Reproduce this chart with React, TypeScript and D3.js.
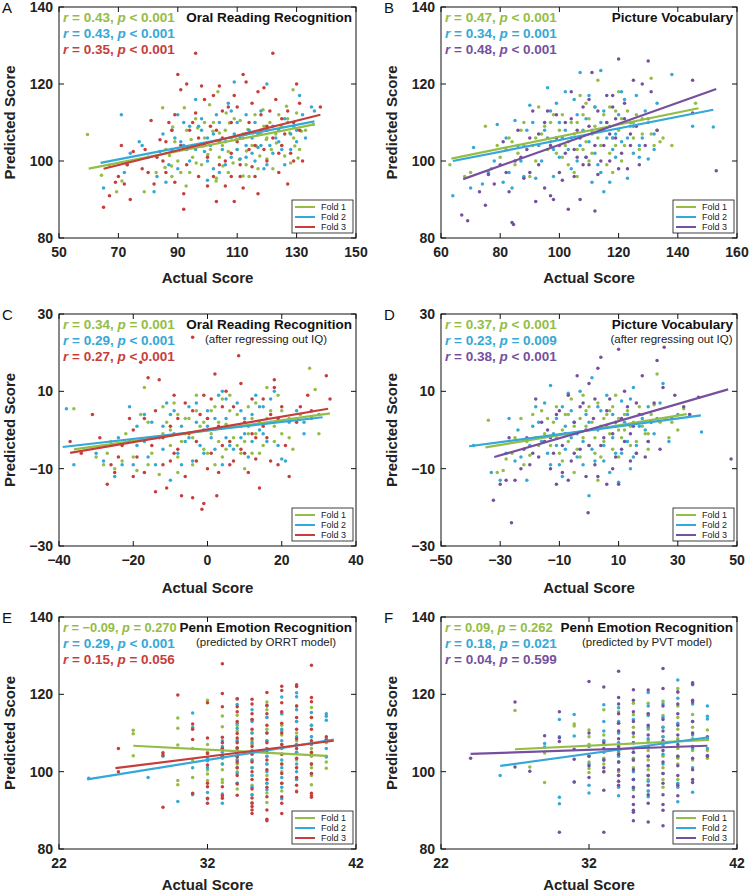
import React from 'react';
import * as d3 from 'd3';

type Pt = [number, number];
type Col = [number, number[]];
type Seg = [number, number, number, number];

const GREEN = '#94bd45';
const BLUE = '#34a8d6';
const RED = '#c63e3c';
const PURPLE = '#76509f';
const FONT = '"Liberation Sans", Arial, Helvetica, sans-serif';

const foldLabels = ['Fold 1', 'Fold 2', 'Fold 3'];

// ---------- Panel A : Oral Reading Recognition ----------
const aXTicks = [50, 70, 90, 110, 130, 150];
const aYTicks = [80, 100, 120, 140];
const aFold1: Pt[] = [[59.6,106.9],[64.3,96.3],[66.9,98.9],[69.4,92],[71.2,94.8],[72.9,99],[78.7,92],[82.7,97],[84.9,113.8],[85.7,98.3],[87.2,101.4],[88.3,108.8],[87.9,98.7],[92.2,113.8],[92.8,93.5],[94.5,105.6],[96.2,99.5],[96.7,108.6],[98.4,103.9],[100.1,101.7],[100.7,114.6],[101.8,107.7],[102.9,94.8],[103.5,118],[104,107.3],[105.2,98.7],[106.3,112.5],[107.4,109.9],[108.6,99.5],[109.7,105.6],[110.8,100.4],[112,96.1],[113.1,102.6],[113.6,108.2],[115.3,107.3],[116.4,103.9],[117.6,101.3],[118.7,113.3],[119.8,105.6],[121.5,103],[123.2,104.7],[124.9,109],[126,101.3],[126.6,114.2],[127.7,107.3],[128.8,118.5],[129.4,103.9],[130,112.5],[130.5,100.8],[135.6,109.5],[131.6,107.7],[91,97],[97,104],[99,110],[103,95.5],[111,110.5],[114,96],[120,100.5],[124,112],[128,99.5],[88,96],[95,101],[107,102.5],[118,107],[86,103],[89,105],[90,100],[93,108],[94,97],[96,111],[98,99],[99,106],[101,103],[102,110],[104,101],[105,104],[106,108],[107,97],[108,106],[109,111],[110,103],[112,107],[113,99],[115,104],[116,112],[117,98],[119,109],[120,106],[121,110],[122,98],[123,107],[125,104],[127,111],[129,106],[131,103],[133,108]];
const aFold2: Pt[] = [[65,93],[71,112],[72,97],[74,102],[77,105],[78,104],[82,92],[84,102.5],[86,94.5],[88,108],[89,106],[90,112],[92,110],[93,103],[95,104],[96,116],[97,109],[98,108],[100,106],[101,104],[102,98],[103,112],[104,105],[105,103],[106,99],[107,115],[108,113],[109,120.5],[110,103],[111,100.5],[112,106],[113,104],[114,108],[115,102],[116,110],[117,107],[118,113],[119,98],[120,120],[121,104],[122,109],[123,106],[125,103],[126,99],[127,110],[128,107],[130,105],[131,117],[132,112],[135,114],[120,99],[100,95],[94,100],[99,102.5],[87,99],[91,105],[104,110],[109,107],[113,101],[117,103.5],[124,108],[129,109],[80,101],[83,96],[85,107],[88,103],[90,98],[92,104],[94,109],[96,103],[98,111],[100,100],[102,107],[104,97],[106,105],[108,101],[110,110],[111,106],[113,112],[115,106],[116,100],[118,104],[120,108],[122,102],[124,105],[126,111],[128,103],[130,108],[133,106],[136,113]];
const aFold3: Pt[] = [[65,88],[67,91],[69,94.5],[70,96],[71,104],[72,94],[74,90],[75,102.5],[78,98],[80,97],[81,110.5],[82,94],[84,105.5],[85,100],[87,110],[88,108],[89,94.5],[90,122.5],[91,118.5],[92,87.5],[92,91.5],[93,120],[94,108],[96,128],[96,112.5],[97,96],[98,119.5],[99,104],[100,93.5],[101,109],[102,117],[103,89.5],[104,119.5],[105,106],[106,93.5],[107,114],[108,102],[109,89.5],[110,114],[111,96],[112,122.5],[112,93],[113,120.5],[114,110],[115,98.5],[116,104],[117,118],[117,91.5],[118,108],[119,119],[120,100],[121,113],[122,128],[123,116],[124,102],[125,111],[126,107],[127,94],[128,102],[129,110],[130,120],[131,108],[132,100],[138,114],[113,107],[104,99],[108,110],[86,105],[73,99],[79,103],[83,101],[86,97],[89,112],[91,104],[93,99],[95,110],[97,106],[99,116],[100,101],[102,96],[103,108],[105,113],[106,100],[108,96],[109,117],[110,105],[111,99],[114,103],[115,115],[116,96],[118,112],[119,103],[120,109],[122,106],[124,97],[125,104],[127,113],[129,100],[131,115]];
const aLines: Seg[] = [[60,98,136,109.5],[64,99.5,136,110.3],[65,98,138,112]];
const aStats = [['0.43','<','0.001'],['0.43','<','0.001'],['0.35','<','0.001']];

// ---------- Panel B : Picture Vocabulary ----------
const bXTicks = [60, 80, 100, 120, 140, 160];
const bYTicks = [80, 100, 120, 140];
const bFold1: Pt[] = [[63,99],[68,96],[70,97],[75,109],[77,98],[79,104],[80,101],[82,103],[83,106],[84,105],[86,102],[87,108],[88,110],[90,96],[91,104],[92,106],[93,114],[95,109],[96,103],[97,105],[98,112],[99,106],[100,108],[101,101],[102,104],[103,99],[104,110],[105,107],[106,103],[107,117],[108,112],[109,105],[110,100],[111,107],[112,114],[113,121],[114,104],[115,108],[116,110],[117,102],[118,106],[119,113],[120,118],[121,111],[122,104],[124,109],[125,106],[126,112],[127,103],[128,107],[130,110],[131,121.5],[132,104],[133,108],[135,106],[138,104],[146,115],[118,97],[106,96],[110,111],[85,99],[88,104],[92,100],[94,107],[97,110],[99,102],[101,112],[103,105],[105,97],[106,110],[108,103],[109,115],[111,102],[112,109],[113,106],[115,112],[116,99],[117,114],[119,104],[120,108],[121,100],[123,113],[125,110],[128,111],[131,107],[134,105]];
const bFold2: Pt[] = [[64,91],[70,93],[71,103.5],[74,94],[76,97],[79,109.5],[81,94.5],[83,97],[84,93],[85,110.5],[87,100],[89,108],[90,114.5],[92,95.5],[93,104],[95,108],[96,119],[97,113],[98,103],[99,115],[100,110],[101,106],[102,118],[103,103],[104,98],[105,116],[106,112],[107,123],[108,108],[109,101],[110,105],[111,94.5],[112,114],[113,99],[114,123.5],[115,92],[116,106],[117,94.5],[118,103],[119,107],[120,112],[121,105],[122,116],[123,95.5],[124,110],[125,102],[126,117],[127,101],[128,106],[129,113],[130,100.5],[132,107],[133,115],[138,122.5],[145,109],[152,108.8],[118,106],[114,110],[110,117],[78,100],[82,106],[86,104],[88,96],[91,110],[94,100],[96,106],[98,96],[100,101],[102,108],[104,106],[106,100],[107,104],[109,111],[111,108],[112,102],[114,97],[115,113],[117,109],[119,101],[121,118],[123,106],[125,109],[127,104],[130,111],[132,103]];
const bFold3: Pt[] = [[67,86],[69,84.5],[73,92],[75,88.5],[76,96.5],[80,99],[81,105],[83,92],[84,84],[84.5,83.5],[85,100],[86,108],[88,95.5],[89,103],[90,97],[91,113],[92,89.5],[93,107],[95,93],[96,113],[97,91],[98,90],[99,106],[100,104],[101,95],[102,110],[103,87.5],[104,111],[105,103],[106,108],[107,90],[108,114],[109,101],[110,116],[111,123],[112,87],[113,96.5],[114,108],[115,104],[116,110],[117,100],[118,114],[119,106],[120,126.5],[121,102],[122,111],[123,98],[124,107],[125,121],[127,99],[128,120],[130,126],[131,118],[133,108],[145,121],[145,112.5],[153,97.5],[110,99],[118,117],[106,101],[78,94],[82,97],[87,101],[90,106],[93,99],[95,110],[97,104],[99,112],[100,97],[102,102],[104,118],[105,96],[107,106],[108,99],[110,109],[112,104],[113,113],[114,100],[116,117],[117,107],[119,111],[120,98],[122,115],[124,104],[126,109],[129,104]];
const bLines: Seg[] = [[63.5,100.6,147,113.7],[64,100,152,113.3],[67.5,95.3,153,118.7]];
const bStats = [['0.47','<','0.001'],['0.34','=','0.001'],['0.48','<','0.001']];

// ---------- Panel C : ORR after regressing out IQ ----------
const cXTicks = [-40, -20, 0, 20, 40];
const cYTicks = [-30, -10, 10, 30];
const cFold1: Pt[] = [[-36,5.5],[-30,-7],[-28,-9],[-27,-6],[-25,-10],[-23,-8],[-20,-7],[-19,-10.5],[-17,11],[-15,-6],[-14,-2],[-13,-11.5],[-12,-1],[-11,2],[-10,-4],[-9,7],[-8,4],[-7,-3],[-6,-1],[-5,3],[-4,-9],[-3,5],[-2,1],[-1,-5],[0,3],[1,-1],[2,6],[3,-3],[4,-7],[5,1.5],[6,5],[7,-2],[8,4],[9,-6],[10,-3],[11,6],[12,3],[13,-1],[14,2],[15,-4],[16,11],[17,5],[18,1],[19,9],[20,-1],[22,3],[23,-5],[27.5,16],[29,10.5],[30,-1],[-8,-11],[10,-10],[4,8],[-21,-3],[-16,2],[2,-9],[12,-6],[-22,-1],[-18,4],[-16,-9],[-12,6],[-10,0],[-8,-7],[-6,3],[-4,-2],[-3,9],[-1,2],[0,-6],[1,5],[3,2],[5,-5],[6,9],[8,-4],[9,1],[11,-1],[13,7],[14,-6],[16,3],[18,-3],[20,5],[22,-2],[25,4],[-26,-3]];
const cFold2: Pt[] = [[-38,5.5],[-36,-9],[-28,-8],[-25,-12],[-23,-9],[-21,6],[-19,-4],[-17,-3],[-15,2],[-13,-2],[-12,-5],[-11,7],[-10,4],[-9,-1],[-8,-6],[-7,1],[-6,-3],[-5,6],[-4,-8],[-3,2],[-2,-4],[-1,0],[0,5],[1,-2],[2,-5],[3,9],[4,10],[5,3],[6,-4],[7,1],[8,7],[9,-2],[10,3],[11,-7],[12,4],[13,9],[14,0],[15,6],[16,-3],[17,2],[18,10],[19,3],[20,-7.5],[21,-8],[24,5],[26,2],[28,3],[30,4],[-10,-13],[-16,-7],[5,-2],[11,1],[-30,-6],[-24,-2],[-20,-9],[-17,4],[-14,-9],[-12,1],[-9,5],[-7,-9],[-5,-2],[-3,7],[-1,-6],[0,1],[2,3],[4,-9],[5,8],[7,-5],[9,5],[10,-1],[12,-3],[14,6],[15,-1],[17,8],[19,-4],[22,2],[26,-1],[-19,1]];
const cFold3: Pt[] = [[-37,-3],[-34,-6],[-31,4],[-27,-14],[-26,-9],[-25,-11],[-24,-7],[-21,3],[-20,-12],[-19,-7],[-18,17.5],[-17,3],[-16,13.5],[-15,-4],[-14,-16],[-13,13],[-12,-9],[-11,-15],[-10,1],[-9,9],[-8,-5],[-7,-17],[-6,7],[-5,-1],[-4,-17.5],[-3,-8],[-2,4],[-1,-19],[-1.5,-20.5],[0,-10],[1,8],[2,14.5],[2.5,-17],[3,1],[4,-4],[5,10],[6,-3],[7,6],[8.4,19.2],[9,-5],[10,2],[11,-11],[12,-1],[13,-7.5],[14,-15],[15,8],[16,-2],[17,4],[18,11],[19,-9],[20,6],[22,-12],[25,6],[28,5],[32,14],[33,8],[-4,24],[18,13],[-9,-6],[7,-8],[-29,-2],[-23,-4],[-20,0],[-17,-11],[-14,5],[-12,-2],[-10,-8],[-8,3],[-6,-12],[-4,5],[-3,-3],[-1,9],[0,3],[1,-6],[3,-11],[4,6],[6,-9],[7,1],[9,12],[10,-6],[12,8],[13,-2],[15,1],[17,-8],[19,3],[21,-4],[24,2],[27,9]];
const cLines: Seg[] = [[-36,-5,33,4.3],[-39,-4.4,31,3.3],[-37,-5.9,32.5,5.5]];
const cStats = [['0.34','=','0.001'],['0.29','<','0.001'],['0.27','<','0.001']];

// ---------- Panel D : PVT after regressing out IQ ----------
const dXTicks = [-50, -30, -10, 10, 30, 50];
const dYTicks = [-30, -10, 10, 30];
const dFold1: Pt[] = [[-34,2.5],[-31,-11],[-29,-10.5],[-28,-7.5],[-26,-6],[-23,3],[-21,-3],[-20,-6.5],[-18,-2],[-16,5],[-15,-1],[-13,-4],[-12,2],[-11,6],[-10,-6],[-9,0],[-8,4],[-7,-3],[-6,8],[-5,1],[-4,-5],[-3,3],[-2,-2],[-1,5],[0,-4],[1,2],[2,-6],[3,7],[4,1],[5,-3],[6,4],[7,-1],[8,6],[9,9],[10,3],[11,-2],[12,0],[13,5],[14,-4],[15,2],[16,-3],[17,6],[18,1],[19,-1],[20,-5],[21,4],[22,6.5],[23,14.5],[26,3],[28,2],[30,0],[32,5.5],[-5,-11],[3,-13],[10,-7],[-25,-2],[-22,-9],[-19,4],[-17,-4],[-14,3],[-11,-2],[-9,-8],[-7,4],[-5,-1],[-3,-7],[-1,1],[0,6],[2,-2],[4,-7],[5,3],[7,5],[8,-5],[10,0],[12,4],[14,1],[16,-6],[18,4],[20,-1],[24,2],[27,-2],[-2,9]];
const dFold2: Pt[] = [[-39,-4],[-33,-11],[-30,-13],[-27,3],[-25,-8],[-23,-7],[-21,-13],[-19,1],[-18,6],[-16,-3],[-15,7],[-14,-6],[-13,11.5],[-12,-1],[-11,3],[-10,-9],[-9,6],[-8,-5],[-7,9.5],[-6,-2],[-5,2],[-4,-7],[-3,10],[-2,-3],[-1,4],[0,-17],[1,13.5],[2,-8],[3,0],[4,5],[5,-4],[6,1],[7,-11],[8,4],[9,-6],[10,-13.5],[11,7.5],[12,2],[13,-3],[14,-10],[15,11],[16,-4],[18,3],[19,0],[20,6],[22,-1],[25,12],[30,4],[34,4],[38,-0.5],[24,7],[-28,-6],[-24,0],[-20,-4],[-17,2],[-13,-9],[-11,-4],[-8,1],[-6,5],[-4,-1],[-2,-9],[0,2],[1,-5],[3,6],[5,-8],[6,9],[8,-2],[9,1],[11,-6],[13,4],[15,-7],[17,1],[20,-3],[23,3],[27,-3],[-9,-12],[14,8]];
const dFold3: Pt[] = [[-32.3,-18.2],[-30,-14],[-28,-13],[-27,-2],[-25,-13],[-26.2,-24],[-22,-5],[-20,-9],[-18,8],[-17,-7],[-15,-3],[-14,0],[-12,-6],[-11,-14],[-10,5],[-9,-11],[-8,-1],[-7,9],[-6,-8],[-5,2],[-4,14],[-3,-5],[-2,7],[-1,-12],[0,12],[-0.3,-21.4],[1.5,3],[2,-9],[3,16],[4,-4],[4,18.8],[6,-14],[7,8],[8,-1],[9,-7],[10,20.9],[11,3],[12,-3],[13,6],[14,-8],[15,1],[16,-6],[17,4],[18,14],[20,-3],[22,7],[23,18],[25,11],[25.4,21.4],[28,3],[29,9],[34,4],[37,8.5],[48,-7.5],[10,-14],[-13,-2],[-23,-10],[-21,-2],[-19,-6],[-16,2],[-13,-10],[-11,4],[-9,-4],[-7,-13],[-5,-6],[-3,6],[-1,0],[0,-4],[2,8],[3,-12],[5,-2],[6,5],[8,-10],[9,2],[11,-5],[12,10],[14,-1],[16,7],[19,-7],[21,2],[24,-5],[32,6]];
const dLines: Seg[] = [[-35,-4.5,33,4.1],[-40.5,-4.2,37.8,3.8],[-32,-7,47,10.5]];
const dStats = [['0.37','<','0.001'],['0.23','=','0.009'],['0.38','<','0.001']];

// ---------- Panel E : Penn Emotion Recognition (ORRT model) ----------
const eXTicks = [22, 32, 42];
const eYTicks = [80, 100, 120, 140];
const eFold1: Col[] = [[27,[110.7,109.8,104.1]],[30,[113.9,111.2,106.9,97.7,96.6]],[31,[98.5,106,103]],[32,[118.5,107,100.4,99.4,97.7,103,105]],[33,[114.4,111.6,106,104,98,97.2,102,100.5]],[34,[114.6,110.5,108,106,104,102,100,97,95.5,112,103]],[35,[113.5,110,107,105,103,101,99,96.5,94,92,108]],[36,[118,114,111,108,106,104,102,99,97,94.5,92,116]],[37,[115,112,109.5,107,104.5,102,100,97,95,110.5]],[38,[117,113,110,108,105,103,101,98,95,107]],[39,[116.6,112,109,106,104,101,99,96.6,114]],[40,[107.5,104,100.9,102.5]]];
const eFold2: Col[] = [[24,[98.3]],[28,[98.5]],[29,[104]],[30,[92.3]],[31,[115.2,111.4,101,94]],[32,[103.4,102.8,94.6,92.9,101]],[33,[108,105,103.5,102,94.2,91.8,106.5]],[34,[118.9,117.4,112.5,111.2,108,106,104,101,99.5,97,103]],[35,[116,113,110,107.5,105.5,103,101,99,96,94]],[36,[117,114,110,108,106,104,102,100,97,95.3]],[37,[119.3,115,111,108,106,103,101,98.5,96,93]],[38,[120.4,119.4,116,113,109,107,105,102,100,98]],[39,[115.3,112,109,107,104.5,102,99.5]],[40,[115,114.3,113.3,108.4,106,103.8]]];
const eFold3: Col[] = [[26,[106,100]],[29,[104.9,104.3,90.8]],[30,[119.8]],[31,[112.3,111,108.3,94.4]],[32,[117.8,108.7,104.7,101.7,97,96.1,93.1,91.8]],[33,[127.9,120.2,116.8,108.9,107.5,106,104,96.1,93.8,93.1]],[34,[118.8,116.8,115.5,113,109.9,108.7,107.5,106.2,105,103.8,102.5,101,99,96.8,93.9]],[35,[118.7,117.5,115,113.5,111,108.5,106.5,104.5,102.5,100,98,95.5,93.2,91.8,91,90.1,89.2]],[36,[120.5,117.2,115,112,110,107.5,105,103,100.5,98,96,93.5,90.1,87.7,87.3]],[37,[122.1,121,117.8,115.5,112.5,110,107,104.5,102,99.5,97,93.5,91.8,89.2]],[38,[122.5,122,117,114,111,108.5,106,103.5,101,98.5,96.5,94.8]],[39,[127.5,119.2,118.1,114,111,108,105,102,99.5,94.4,93.8,93.4]],[40,[109,108.2]]];
const eLines: Seg[] = [[27,106.7,40,104.1],[23.9,98,40.5,108.3],[25.8,100.9,40.5,108]];
const eStats = [['\u22120.09','=','0.270'],['0.29','<','0.001'],['0.15','=','0.056']];

// ---------- Panel F : Penn Emotion Recognition (PVT model) ----------
const fXTicks = [22, 32, 42];
const fYTicks = [80, 100, 120, 140];
const fFold1: Col[] = [[27,[115.8]],[28,[101.2]],[29,[97.2,104.8]],[31,[112.3,111.8]],[32,[110.8,109,107,104,102.5,100.8,99.8]],[33,[109.5,108,103.5,102,116,100]],[34,[115.5,112.5,110,107.5,105,102.5,100,97.5]],[35,[117.7,114.7,111.5,109,106,103.5,101,98,95.3]],[36,[117.7,115,111,108,105.5,103,100.5,98,95]],[37,[118.2,114.5,111.5,109,106.5,104,101,98,96]],[38,[121.5,120.5,117,114,111,108.5,106,103.5,102,98]],[39,[114.8,111.5,108.5,105.5,103]],[40,[110.8,108.3,105.5,103.5]]];
const fFold2: Col[] = [[26,[99]],[29,[107.3,106.4]],[30,[113.5,109,93.4,91.7]],[31,[114.8,109.2,97.3]],[32,[106.5,102,96.5,94.5]],[33,[117.3,113,110.5,108,105,103]],[34,[116.5,113,110,107.5,105.5,104,102.5,99,96,93.8]],[35,[113.5,110,107.5,105,103,100,98,95.5]],[36,[120.5,117,114.5,111.5,108.5,106.5,104,101.5,99,97.5,95,93.5]],[37,[117.5,114,111.5,109,107,104.5,102,99.5]],[38,[123.7,119,112.5,108,104,97,96,92.2]],[39,[122.5,117.5,113,109.5,106,101,94.7]],[40,[117,114.3,113.6,108.8,106]]];
const fFold3: Col[] = [[24,[103.5]],[27,[118,101.2]],[28,[100.1]],[29,[109.3]],[30,[115.5,108.8,107.8,84.3]],[31,[105.8,103.2,97.3]],[32,[123.3,110,104,101.5,98.5]],[33,[121.9,107.5,106,103,101,100,95.2,84.3]],[34,[126,119.2,117.5,115,112.5,110.5,108.5,106.5,104.5,102.5,100.5,99,97.5,96.5]],[35,[121.2,118.5,115.5,113,110,107.5,105,103,100.5,98,96,93.5,91.5,90,89.5,87.3]],[36,[121.1,115,112,109.5,106.5,104,101.5,99,96.5,94,91.8,87]],[37,[126.7,121.5,117,113.5,110.5,108,105.5,102.5,99.5,97,94,91.5,90,86]],[38,[120.7,117.5,115,112,109.5,107,104,101.5,99,96.5,93.8]],[39,[123,122.7,118.5,118,113,110,106.5,103.5,100.5,98,97.2]],[40,[109,104.2,104]]];
const fLines: Seg[] = [[27,105.8,40.1,108.2],[26,101.5,40.1,108.9],[24,104.6,40,106.7]];
const fStats = [['0.09','=','0.262'],['0.18','=','0.021'],['0.04','=','0.599']];

const fromCols = (cols: Col[]): Pt[] => cols.flatMap(([x, ys]) => ys.map((y) => [x, y] as Pt));

interface PanelProps {
  letter: string;
  left: number; right: number; top: number; bottom: number;
  xTicks: number[]; yTicks: number[];
  folds: Pt[][]; colors: string[]; lines: Seg[]; stats: string[][];
  title: string; subtitle?: string; xLabelGap: number; yLabelX: number;
  firstStatSize?: number;
}

const fmt = (v: number) => String(v).replace('-', '\u2212');

function Panel(p: PanelProps) {
  const x = d3.scaleLinear().domain([p.xTicks[0], p.xTicks[p.xTicks.length - 1]]).range([p.left, p.right]);
  const y = d3.scaleLinear().domain([p.yTicks[0], p.yTicks[p.yTicks.length - 1]]).range([p.bottom, p.top]);
  const tl = 5;
  const cx = (p.left + p.right) / 2;
  const cy = (p.top + p.bottom) / 2;
  const titleRight = p.right - 4;
  const titleW = p.title.length > 20 ? 172 : p.title.length > 19 ? 165 : 123;
  const legX0 = p.right - 64, legX1 = p.right - 3, legY0 = p.bottom - 38, legY1 = p.bottom - 5;
  const rowH = 10;
  return (
    <g fontFamily={FONT}>
      <text x={p.left - 57} y={p.top + 6} fontSize={15} fill="#111">{p.letter}</text>
      {p.folds.map((pts, i) => (
        <g key={'f' + i} fill={p.colors[i]}>
          {pts.map((d, j) => (
            <circle key={j} cx={x(d[0])} cy={y(d[1])} r={1.75} />
          ))}
        </g>
      ))}
      {p.lines.map((s, i) => (
        <line key={'l' + i} x1={x(s[0])} y1={y(s[1])} x2={x(s[2])} y2={y(s[3])} stroke={p.colors[i]} strokeWidth={2.2} />
      ))}
      <rect x={p.left} y={p.top} width={p.right - p.left} height={p.bottom - p.top} fill="none" stroke="#111" strokeWidth={1} />
      {p.xTicks.map((t) => (
        <g key={'xt' + t}>
          <line x1={x(t)} x2={x(t)} y1={p.bottom} y2={p.bottom - tl} stroke="#111" />
          <line x1={x(t)} x2={x(t)} y1={p.top} y2={p.top + tl} stroke="#111" />
          <text x={x(t)} y={p.bottom + 19} textAnchor="middle" fontSize={14} fontWeight="bold" fill="#222">{fmt(t)}</text>
        </g>
      ))}
      {p.yTicks.map((t) => (
        <g key={'yt' + t}>
          <line x1={p.left} x2={p.left + tl} y1={y(t)} y2={y(t)} stroke="#111" />
          <line x1={p.right} x2={p.right - tl} y1={y(t)} y2={y(t)} stroke="#111" />
          <text x={p.left - 6} y={y(t) + 5} textAnchor="end" fontSize={14} fontWeight="bold" fill="#222">{fmt(t)}</text>
        </g>
      ))}
      <text x={cx} y={p.bottom + p.xLabelGap} textAnchor="middle" fontSize={15} fontWeight="bold" fill="#222">Actual Score</text>
      <text transform={`translate(${p.yLabelX},${cy}) rotate(-90)`} textAnchor="middle" fontSize={15} fontWeight="bold" fill="#222">Predicted Score</text>
      {p.stats.map((s, i) => (
        <text key={'s' + i} x={p.left + 4} y={p.top + 15 + i * 16}
          fontSize={i === 0 && p.firstStatSize ? p.firstStatSize : 13.5} fontWeight="bold" fill={p.colors[i]}>
          <tspan fontStyle="italic">r</tspan>{` = ${s[0]}, `}<tspan fontStyle="italic">p</tspan>{` ${s[1]} ${s[2]}`}
        </text>
      ))}
      <text x={titleRight} y={p.top + 15} textAnchor="end" fontSize={13.5} fontWeight="bold" fill="#111">{p.title}</text>
      {p.subtitle && (
        <text x={titleRight - titleW / 2} y={p.top + 29} textAnchor="middle" fontSize={11.5} fill="#222">{p.subtitle}</text>
      )}
      <rect x={legX0} y={legY0} width={legX1 - legX0} height={legY1 - legY0} fill="#fff" stroke="#111" strokeWidth={0.8} />
      {foldLabels.map((lab, i) => (
        <g key={'lg' + i}>
          <line x1={legX0 + 3} x2={legX0 + 23} y1={legY0 + 7 + i * rowH} y2={legY0 + 7 + i * rowH} stroke={p.colors[i]} strokeWidth={2} />
          <text x={legX0 + 29} y={legY0 + 10.2 + i * rowH} fontSize={9} fill="#222">{lab}</text>
        </g>
      ))}
    </g>
  );
}

export default function App() {
  const L = { left: 59, right: 356 };
  const R = { left: 441, right: 737 };
  const rows = [
    { top: 7, bottom: 238, gap: 45 },
    { top: 314, bottom: 546, gap: 47 },
    { top: 617, bottom: 849, gap: 41 },
  ];
  const c3a = [GREEN, BLUE, RED];
  const c3b = [GREEN, BLUE, PURPLE];
  return (
    <svg width={750} height={892} style={{ position: 'absolute', left: 0, top: 0, background: '#fff' }}>
      <rect width={750} height={892} fill="#fff" />
      <Panel letter="A" {...L} top={rows[0].top} bottom={rows[0].bottom} xLabelGap={rows[0].gap} yLabelX={15}
        xTicks={aXTicks} yTicks={aYTicks} folds={[aFold1, aFold2, aFold3]} colors={c3a} lines={aLines} stats={aStats}
        title="Oral Reading Recognition" />
      <Panel letter="B" {...R} top={rows[0].top} bottom={rows[0].bottom} xLabelGap={rows[0].gap} yLabelX={397}
        xTicks={bXTicks} yTicks={bYTicks} folds={[bFold1, bFold2, bFold3]} colors={c3b} lines={bLines} stats={bStats}
        title="Picture Vocabulary" />
      <Panel letter="C" {...L} top={rows[1].top} bottom={rows[1].bottom} xLabelGap={rows[1].gap} yLabelX={15}
        xTicks={cXTicks} yTicks={cYTicks} folds={[cFold1, cFold2, cFold3]} colors={c3a} lines={cLines} stats={cStats}
        title="Oral Reading Recognition" subtitle="(after regressing out IQ)" />
      <Panel letter="D" {...R} top={rows[1].top} bottom={rows[1].bottom} xLabelGap={rows[1].gap} yLabelX={397}
        xTicks={dXTicks} yTicks={dYTicks} folds={[dFold1, dFold2, dFold3]} colors={c3b} lines={dLines} stats={dStats}
        title="Picture Vocabulary" subtitle="(after regressing out IQ)" />
      <Panel letter="E" {...L} top={rows[2].top} bottom={rows[2].bottom} xLabelGap={rows[2].gap} yLabelX={15}
        xTicks={eXTicks} yTicks={eYTicks} folds={[fromCols(eFold1), fromCols(eFold2), fromCols(eFold3)]} colors={c3a} lines={eLines} stats={eStats}
        title="Penn Emotion Recognition" subtitle="(predicted by ORRT model)" firstStatSize={12.8} />
      <Panel letter="F" {...R} top={rows[2].top} bottom={rows[2].bottom} xLabelGap={rows[2].gap} yLabelX={397}
        xTicks={fXTicks} yTicks={fYTicks} folds={[fromCols(fFold1), fromCols(fFold2), fromCols(fFold3)]} colors={c3b} lines={fLines} stats={fStats}
        title="Penn Emotion Recognition" subtitle="(predicted by PVT model)" firstStatSize={13} />
    </svg>
  );
}
